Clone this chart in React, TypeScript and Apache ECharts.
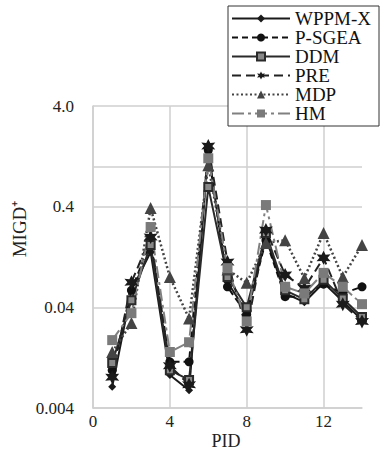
import React, { useEffect, useRef } from "react";
import * as echarts from "echarts";

const pid = [1, 2, 3, 4, 5, 6, 7, 8, 9, 10, 11, 12, 13, 14];
const wppmx = [0.0065, 0.059, 0.142, 0.0085, 0.006, 1.39, 0.071, 0.036, 0.195, 0.055, 0.045, 0.07, 0.046, 0.03];
const psgea = [0.0095, 0.059, 0.18, 0.0115, 0.0115, 1.46, 0.064, 0.034, 0.186, 0.051, 0.051, 0.068, 0.055, 0.064];
const ddm = [0.0112, 0.047, 0.166, 0.0095, 0.0076, 0.626, 0.08, 0.04, 0.219, 0.059, 0.048, 0.075, 0.049, 0.032];
const pre = [0.0081, 0.071, 0.2, 0.0105, 0.0068, 1.6, 0.113, 0.024, 0.234, 0.084, 0.062, 0.124, 0.043, 0.029];
const mdp = [0.0144, 0.028, 0.387, 0.08, 0.031, 1.03, 0.095, 0.07, 0.174, 0.186, 0.078, 0.219, 0.08, 0.166];
const hm = [0.0189, 0.035, 0.251, 0.0144, 0.018, 1.21, 0.098, 0.029, 0.415, 0.064, 0.055, 0.088, 0.064, 0.043];

const yBase = 0.004;
const yTickLabels = ["0.004", "0.04", "0.4", "4.0"];
const extraGridValue = 1.0;
const xTicks = [0, 4, 8, 12];

const tr = (v: number) => Math.log10(v / yBase);
const starPath =
  "path://M10 0 L12.5 5.67 L18.66 5 L15 10 L18.66 15 L12.5 14.33 L10 20 L7.5 14.33 L1.34 15 L5 10 L1.34 5 L7.5 5.67 Z";

const FONT = "Liberation Serif";

export default function App() {
  const ref = useRef<HTMLDivElement>(null);
  useEffect(() => {
    if (!ref.current) return;
    const chart = echarts.init(ref.current, null, { renderer: "svg" });
    const mk = (arr: number[]) => arr.map((v, i) => [pid[i], tr(v)]);
    const gridGray = "#cfcfcf";
    const series: any[] = [
      {
        name: "WPPM-X",
        type: "line",
        data: mk(wppmx),
        symbol: "diamond",
        symbolSize: 8,
        lineStyle: { color: "#1a1a1a", width: 2, type: "solid" },
        itemStyle: { color: "#1a1a1a" },
        markLine: {
          silent: true,
          symbol: "none",
          label: { show: false },
          lineStyle: { color: gridGray, width: 1.5, type: "solid" },
          data: [{ yAxis: tr(extraGridValue) }],
          z: 0,
        },
      },
      {
        name: "P-SGEA",
        type: "line",
        data: mk(psgea),
        symbol: "circle",
        symbolSize: 9,
        lineStyle: { color: "#111", width: 2, type: [6, 4] },
        itemStyle: { color: "#111" },
      },
      {
        name: "DDM",
        type: "line",
        data: mk(ddm),
        symbol: "rect",
        symbolSize: 8,
        lineStyle: { color: "#2a2a2a", width: 2, type: "solid" },
        itemStyle: { color: "#888", borderColor: "#2a2a2a", borderWidth: 2 },
      },
      {
        name: "PRE",
        type: "line",
        data: mk(pre),
        symbol: starPath,
        symbolSize: 14,
        lineStyle: { color: "#222", width: 2, type: [9, 5] },
        itemStyle: { color: "#1a1a1a" },
      },
      {
        name: "MDP",
        type: "line",
        data: mk(mdp),
        symbol: "triangle",
        symbolSize: 12,
        lineStyle: { color: "#444", width: 2.5, type: [2, 2.5] },
        itemStyle: { color: "#444" },
      },
      {
        name: "HM",
        type: "line",
        data: mk(hm),
        symbol: "rect",
        symbolSize: 10,
        lineStyle: { color: "#808080", width: 2, type: [12, 4, 3, 4] },
        itemStyle: { color: "#7a7a7a" },
      },
    ];
    chart.setOption({
      animation: false,
      backgroundColor: "#fff",
      textStyle: { fontFamily: FONT },
      grid: {
        left: 93,
        right: 25,
        top: 106,
        bottom: 44,
        containLabel: false,
        outerBoundsMode: "none",
      },
      legend: {
        orient: "vertical",
        left: 228,
        top: 6,
        padding: [3, 8, 3, 3],
        itemWidth: 58,
        itemHeight: 10,
        itemGap: 0,
        borderColor: "#333",
        borderWidth: 1,
        backgroundColor: "#fff",
        textStyle: { fontFamily: FONT, fontSize: 19, color: "#111", lineHeight: 17.3 },
        data: ["WPPM-X", "P-SGEA", "DDM", "PRE", "MDP", "HM"],
      },
      xAxis: {
        type: "value",
        min: 0,
        max: 14,
        interval: 4,
        axisLine: { show: true, lineStyle: { color: gridGray, width: 1.5 } },
        axisTick: { show: false },
        axisLabel: {
          fontFamily: FONT,
          fontSize: 17,
          color: "#222",
          margin: 5,
          formatter: (v: number) => (xTicks.includes(v) ? String(v) : ""),
        },
        splitLine: { show: true, showMaxLine: false, lineStyle: { color: gridGray, width: 1.5 } },
      },
      yAxis: {
        type: "value",
        min: 0,
        max: 3,
        interval: 1,
        axisLine: { show: true, lineStyle: { color: gridGray, width: 1.5 } },
        axisTick: { show: false },
        axisLabel: {
          fontFamily: FONT,
          fontSize: 17,
          color: "#222",
          margin: 19,
          formatter: (v: number) => yTickLabels[Math.round(v)] ?? "",
        },
        splitLine: { show: true, lineStyle: { color: gridGray, width: 1.5 } },
      },
      graphic: [
        {
          type: "text",
          x: 19,
          y: 229,
          rotation: Math.PI / 2,
          style: {
            text: "MIGD⁺",
            fontFamily: FONT,
            fontSize: 19,
            fill: "#222",
            align: "center",
            verticalAlign: "middle",
          },
        },
        {
          type: "text",
          x: 226,
          y: 441,
          style: {
            text: "PID",
            fontFamily: FONT,
            fontSize: 18,
            fill: "#222",
            align: "center",
            verticalAlign: "middle",
          },
        },
      ],
      series,
    });
    return () => chart.dispose();
  }, []);
  return (
    <div
      ref={ref}
      style={{ position: "absolute", left: 0, top: 0, width: 387, height: 452 }}
    />
  );
}
